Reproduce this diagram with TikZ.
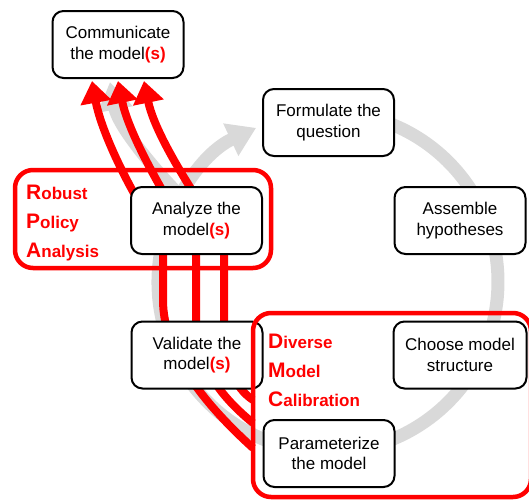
\documentclass[tikz,border=0pt]{standalone}
\usepackage{fontspec}
\setmainfont{Liberation Sans}
\usetikzlibrary{arrows.meta}
\definecolor{rd}{RGB}{255,0,0}
\definecolor{gr}{RGB}{217,217,217}
\newcommand\capl[1]{{\fontsize{21}{21}\selectfont #1}}
\newcommand\rs{\textcolor{rd}{\bfseries(s)}}
\begin{document}
\begin{tikzpicture}[x=1pt,y=-1pt,
 box/.style={draw=black, line width=2pt, fill=white, rounded corners=11pt, minimum width=131pt, minimum height=67pt, align=center, inner sep=0pt, font=\fontsize{17}{20.5}\selectfont},
 frame/.style={draw=rd, line width=4.5pt, rounded corners=18pt},
 redflow/.style={draw=rd, line width=8pt},
 redarrow/.style={redflow, -{Triangle[length=22pt,width=30pt]}},
 grayflow/.style={draw=gr, line width=13pt},
 grayarrow/.style={grayflow, -{Triangle[length=28pt,width=34pt]}},
 lbl/.style={anchor=base west, text=rd, font=\fontsize{17}{17}\selectfont\bfseries, inner sep=0pt},
]
\useasboundingbox (0,0) rectangle (529,501);

% gray cycle
\coordinate (cs) at (342.8,112.6);
\draw[grayarrow] (cs) arc[start angle=85, end angle=-245, radius=170pt];
\coordinate (gb0) at (181,197);
\coordinate (gb1) at (110,82);
\draw[grayarrow] (gb0) .. controls (150,165) and (118,125) .. (gb1);

% red flows from calibration to analysis
\coordinate (l1a) at (253,448);
\coordinate (l1b) at (163,250);
\coordinate (l2a) at (253,423);
\coordinate (l2b) at (196,250);
\coordinate (l3a) at (253,400);
\coordinate (l3b) at (224,250);
\draw[redflow] (l1a) .. controls (200,400) and (163,350) .. (163,300) -- (l1b);
\draw[redflow] (l2a) .. controls (215,392) and (196,360) .. (196,320) -- (l2b);
\draw[redflow] (l3a) .. controls (235,388) and (224,365) .. (224,320) -- (l3b);

% red arrows to communicate
\coordinate (r1a) at (135,195);
\coordinate (r1b) at (92,81);
\coordinate (r2a) at (165,195);
\coordinate (r2b) at (118,81);
\coordinate (r3a) at (195,195);
\coordinate (r3b) at (144,81);
\draw[redarrow] (r1a) .. controls (118,165) and (100,125) .. (r1b);
\draw[redarrow] (r2a) .. controls (146,162) and (127,125) .. (r2b);
\draw[redarrow] (r3a) .. controls (174,162) and (153,125) .. (r3b);

% boxes
\node[box] (comm) at (118,44.5) {Communicate\\the model\rs};
\node[box] (form) at (328.5,122.5) {Formulate the\\question};
\node[box] (assm) at (460,220.5) {Assemble\\hypotheses};
\node[box] (anal) at (196.5,220.5) {Analyze the\\model\rs};
\node[box] (vali) at (197,355) {Validate the\\model\rs};
\node[box, minimum width=133pt] (choo) at (460,355) {Choose model\\structure};
\node[box] (para) at (329,453.5) {Parameterize\\the model};

% red frames
\draw[frame] (15,170) rectangle (271,268);
\draw[frame] (253,313) rectangle (531,497);

% labels
\node[lbl] (rpa1) at (26,199) {\capl{R}obust};
\node[lbl] (rpa2) at (26,228) {\capl{P}olicy};
\node[lbl] (rpa3) at (26,257) {\capl{A}nalysis};
\node[lbl] (dmc1) at (268,348) {\capl{D}iverse};
\node[lbl] (dmc2) at (268,377) {\capl{M}odel};
\node[lbl] (dmc3) at (268,406) {\capl{C}alibration};
\end{tikzpicture}
\end{document}
